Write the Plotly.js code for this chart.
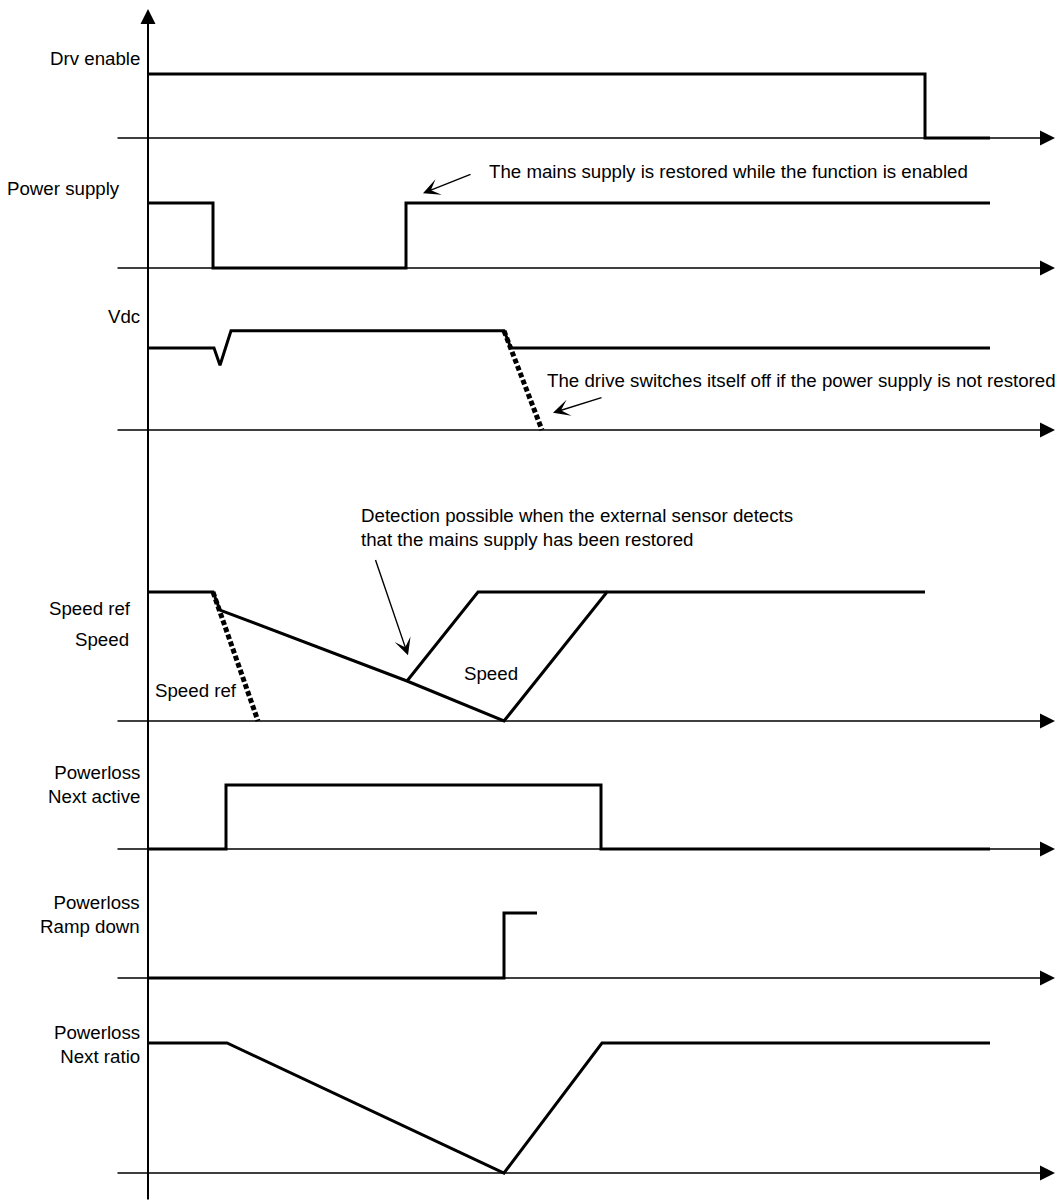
<script src="https://cdn.plot.ly/plotly-3.0.1.min.js"></script>
<style>
  html, body { margin: 0; padding: 0; background: #fff; }
  #timing { width: 1062px; height: 1201px; }
</style>
<div id="timing"></div>
<script>
// Signals: time (arbitrary units, 0 = vertical axis) and level (0 = baseline, 1 = high)
const drvT = [0, 777, 777, 842];
const drvV = [1, 1, 0, 0];

const supplyT = [0, 65, 65, 258, 258, 842];
const supplyV = [1, 1, 0, 0, 1, 1];

const vdcT = [0, 66, 72, 83, 356, 363, 842];
const vdcV = [1, 1, 0.79, 1.21, 1.21, 1, 1];
const vdcOffT = [356, 394];
const vdcOffV = [1.21, 0];

const speedRefT = [65, 110];
const speedRefV = [1, 0];
const speedT = [0, 65, 72, 259, 356, 459, 777];
const speedV = [1, 1, 0.86, 0.31, 0, 1, 1];
const speedRestoreT = [259, 330, 459];
const speedRestoreV = [0.31, 1, 1];

const nextActiveT = [0, 78, 78, 453, 453, 842];
const nextActiveV = [0, 0, 1, 1, 0, 0];

const rampDownT = [0, 356, 356, 389];
const rampDownV = [0, 0, 1, 1];

const nextRatioT = [0, 79, 356, 454, 842];
const nextRatioV = [1, 1, 0, 1, 1];

// row geometry (pixel baseline and height of level 1)
const rowBase = [138, 268, 430, 721, 849, 978, 1173];
const rowHeight = [64, 65, 82, 129, 64, 65, 130];
const H = 1201, W = 1062;
const lo = -0.18, hi = 1.7;

const font = { family: 'Liberation Sans, Arial, sans-serif', size: 18.7, color: '#000' };
const ax = i => (i === 0 ? 'y' : 'y' + (i + 1));

function line(x, y, row, dash, width) {
  return {
    x: x, y: y, yaxis: ax(row), xaxis: 'x',
    type: 'scatter', mode: 'lines', hoverinfo: 'skip',
    line: { color: '#000', width: width || 3, dash: dash || 'solid' }
  };
}

const traces = [
  line(drvT, drvV, 0),
  line(supplyT, supplyV, 1),
  line(vdcT, vdcV, 2),
  line(vdcOffT, vdcOffV, 2, '5px,2.5px', 5),
  line(speedT, speedV, 3),
  line(speedRestoreT, speedRestoreV, 3),
  line(speedRefT, speedRefV, 3, '5px,2.5px', 5),
  line(nextActiveT, nextActiveV, 4),
  line(rampDownT, rampDownV, 5),
  line(nextRatioT, nextRatioV, 6)
];

const layout = {
  width: W, height: H,
  margin: { l: 0, r: 0, t: 0, b: 0 },
  paper_bgcolor: '#fff', plot_bgcolor: 'rgba(0,0,0,0)',
  showlegend: false,
  xaxis: { range: [-148, 914], domain: [0, 1], visible: false, fixedrange: true, anchor: 'y' },
  annotations: []
};

rowBase.forEach((b, i) => {
  const h = rowHeight[i];
  const key = i === 0 ? 'yaxis' : 'yaxis' + (i + 1);
  layout[key] = {
    range: [lo, hi],
    domain: [1 - (b - lo * h) / H, 1 - (b - hi * h) / H],
    visible: false, fixedrange: true, anchor: 'x'
  };
  // baseline with arrow
  layout.annotations.push({
    x: 907, y: 0, xref: 'x', yref: ax(i),
    ax: -32, ay: 0, axref: 'x', ayref: ax(i),
    text: '', showarrow: true, arrowhead: 2, arrowsize: 2, arrowwidth: 1.5, arrowcolor: '#000'
  });
});

// vertical axis
layout.annotations.push({
  x: 0, y: 1 - 9 / H, xref: 'x', yref: 'paper',
  ax: 0, ay: 1195, axref: 'pixel', ayref: 'pixel',
  text: '', showarrow: true, arrowhead: 2, arrowsize: 1.5, arrowwidth: 2, arrowcolor: '#000'
});

function label(text, x, y, row, anchor) {
  layout.annotations.push({
    text: text, x: x, y: y, xref: 'x', yref: ax(row),
    xanchor: anchor || 'right', yanchor: 'middle', align: anchor || 'right',
    showarrow: false, font: font
  });
}

label('Drv enable', -6, 1.25, 0);
label('Power supply', -26, 1.23, 1);
label('Vdc', -6, 1.38, 2);
label('Speed ref', -15, 0.87, 3);
label('Speed', -17, 0.63, 3);
label('Speed ref', 5, 0.24, 3, 'left');
label('Speed', 314, 0.37, 3, 'left');
label('Powerloss<br>Next active', -6, 1.0, 4);
label('Powerloss<br>Ramp down', -6, 0.97, 5);
label('Powerloss<br>Next ratio', -6, 0.985, 6);

label('The mains supply is restored while the function is enabled', 339, 1.49, 1, 'left');
label('The drive switches itself off if the power supply is not restored', 397, 0.6, 2, 'left');
label('Detection possible when the external sensor detects<br>that the mains supply has been restored', 211, 1.50, 3, 'left');

function pointer(x, y, tx, ty, row) {
  layout.annotations.push({
    x: x, y: y, xref: 'x', yref: ax(row),
    ax: tx, ay: ty, axref: 'x', ayref: ax(row),
    text: '', showarrow: true, arrowhead: 3, arrowsize: 2, arrowwidth: 1.4, arrowcolor: '#000'
  });
}

pointer(275, 1.15, 324, 1.45, 1);
pointer(405, 0.21, 455, 0.40, 2);
pointer(260, 0.51, 227, 1.26, 3);

Plotly.newPlot('timing', traces, layout, { staticPlot: true, displayModeBar: false });
</script>
